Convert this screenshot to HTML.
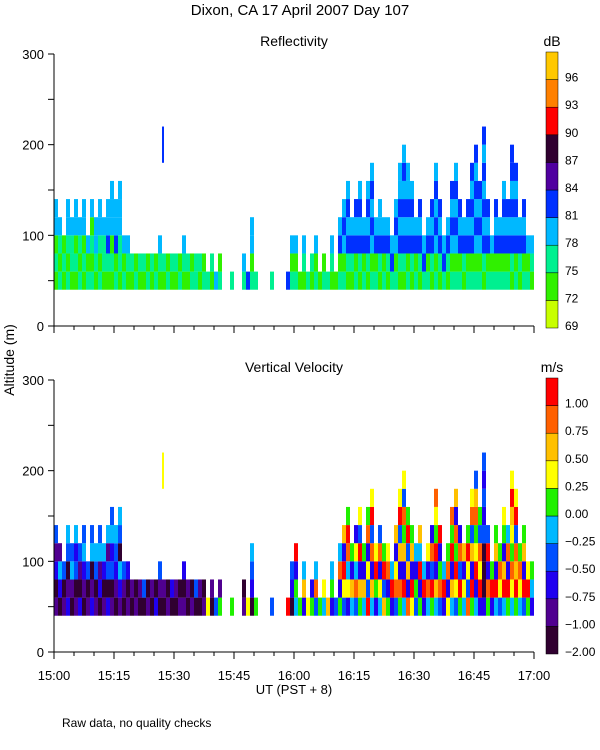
<!DOCTYPE html>
<html><head><meta charset="utf-8">
<style>
html,body{margin:0;padding:0;background:#fff;}
svg{display:block;font-family:"Liberation Sans",sans-serif;}
</style></head>
<body>
<svg id="chart" width="600" height="750" viewBox="0 0 600 750">
<text x="300" y="15" text-anchor="middle" font-size="15">Dixon, CA 17 April 2007  Day 107</text>
<text x="294" y="46" text-anchor="middle" font-size="14">Reflectivity</text>
<text x="294" y="372" text-anchor="middle" font-size="14">Vertical Velocity</text>
<text transform="translate(14,360) rotate(-90)" text-anchor="middle" font-size="14">Altitude (m)</text>
<text x="294" y="694" text-anchor="middle" font-size="13">UT  (PST + 8)</text>
<text x="62" y="727" font-size="12">Raw data, no quality checks</text>
<text x="552" y="46" text-anchor="middle" font-size="14">dB</text>
<text x="552" y="372" text-anchor="middle" font-size="14">m/s</text>
<g id="plots"></g>
</svg>
<script>
// minutes after 15:00, one column per minute; each char = 20 m gate starting at 40 m
const reflGates = [
"12133","2123","121","21233","1223","12133","2123","12133","213","21213",
"1233","21233","1223","12433","121333","21433","122333","213","123","12",
"21","12","12","21","12","21","123","12","21","12",
"12","21","123","12","21","22","12","21","2","12",
"3","21","","","2","","","23","4","2133",
"2","","","","2","","","","4","213",
"213","1","123","2","12","213","1","21","2","123",
"1","2143","21343","124343","1243","21434","124343","2143","124343","2134343",
"2143","12433","2143","1243","243","21343","1243433","12434343","2143433","124343",
"2143","12434","243","2143","12434","2134343","12434","243","1243","213434",
"2134343","21434","1243","21434","2143434","21343434","213434","124343434","21434","213",
"21434","2143","214343","21434","12434344","2143434","1243","21434","213","123"];
const velGates = [
"10213","0241","103","21034","0143","10324","2013","01243","103","21043",
"1034","02143","1024","20314","103243","01234","124034","013","102","01",
"10","01","03","10","01","20","013","01","10","02",
"01","10","102","01","10","03","01","10","6","01",
"3","51","","","5","","","10","6","0234",
"5","","","","3","","","","9","023",
"4529","5","274","6","52","384","5","46","7","254",
"3","5284","36927","264895","4725","38462","572936","4725","936285","4728396",
"2596","46283","7395","5286","294","38627","5827396","49275836","827395","69275",
"3524","52947","294","4826","59382","4729568","38529","294","6285","472958",
"3695827","59382","4627","83695","5927386","42965873","296835","200032323","58293","295",
"49275","3685","497256","59284","46856796","5978396","4685","39275","596","245"];
const spikeMinute = [27];
const spikeBottom = [180];
const spikeTop = [220];
const spikeRefl = [4];
const spikeVel = [6];
const reflLabels = ["69","72","75","78","81","84","87","90","93","96"];
const velLabels = ["-2.00","-1.00","-0.75","-0.50","-0.25","0.00","0.25","0.50","0.75","1.00"];
const xTickLabels = ["15:00","15:15","15:30","15:45","16:00","16:15","16:30","16:45","17:00"];
const yTickLabels = [0,100,200,300];

const reflColors = ["#c8ff00","#30f000","#00f090","#00b8ff","#0030ff","#5000a0","#300030","#ff0000","#ff8000","#ffc800"];
const velColors = ["#300030","#500090","#2000f0","#0050ff","#00b8ff","#20f000","#ffff00","#ffc000","#ff6000","#ff0000"];

const NS="http://www.w3.org/2000/svg";
const root=document.getElementById('plots');
function el(t,a,p){const e=document.createElementNS(NS,t);for(const k in a)e.setAttribute(k,a[k]);(p||root).appendChild(e);return e;}
const X0=54,X1=534;
const xScale=m=>X0+m*(X1-X0)/120;

function panel(name,yTop,yBot,gates,colors,sVal,cbLabels){
  const yScale=a=>yBot-a*(yBot-yTop)/300;
  const g=el('g',{});
  
  
  gates.forEach((s,i)=>{
    for(let k=0;k<s.length;k++){
      const a0=40+k*20,a1=a0+20;
      const r=el('rect',{x:xScale(i),y:yScale(a1),width:xScale(i+1)-xScale(i),height:yScale(a0)-yScale(a1),fill:colors[+s[k]]},g);
      
      
    }
  });
  spikeMinute.forEach((m,i)=>{
    const r=el('rect',{x:xScale(m),y:yScale(spikeTop[i]),width:2,height:yScale(spikeBottom[i])-yScale(spikeTop[i]),fill:colors[sVal[i]]},g);
    
    
  });
  const ax=el('path',{d:`M${X0},${yTop}V${yBot}H${X1}`,stroke:'#000',fill:'none','stroke-width':1},g);
  
  
  for(let a=0;a<=300;a+=50){
    const y=yScale(a);
    el('line',{x1:X0-6,x2:X0,y1:y,y2:y,stroke:'#000'},g);
  }
  yTickLabels.forEach(v=>{
    const t=el('text',{x:X0-10,y:yScale(v)+5,'text-anchor':'end','font-size':13},g);
    t.textContent=v;
    
    
  });
  for(let m=0;m<=120;m+=5){
    const x=xScale(m);
    el('line',{x1:x,x2:x,y1:yBot,y2:yBot+(m%15===0?7:4),stroke:'#000'},g);
  }
  const cbT=yTop-2,cbB=yBot+2,n=colors.length,h=(cbB-cbT)/n;
  colors.forEach((c,i)=>{
    const r=el('rect',{x:546,y:cbB-(i+1)*h,width:12,height:h,fill:c,stroke:'#000','stroke-width':0.5},g);
    
    
    const t=el('text',{x:565,y:cbB-i*h+2,'font-size':12},g);
    t.textContent=cbLabels[i].replace('-','\u2212');
    
    
  });
}
panel('reflectivity',54,326,reflGates,reflColors,spikeRefl,reflLabels);
panel('velocity',380,652,velGates,velColors,spikeVel,velLabels);
xTickLabels.forEach((l,i)=>{
  const t=el('text',{x:xScale(i*15),y:680,'text-anchor':'middle','font-size':13});
  t.textContent=l;
  
  
});
</script>
</body></html>
